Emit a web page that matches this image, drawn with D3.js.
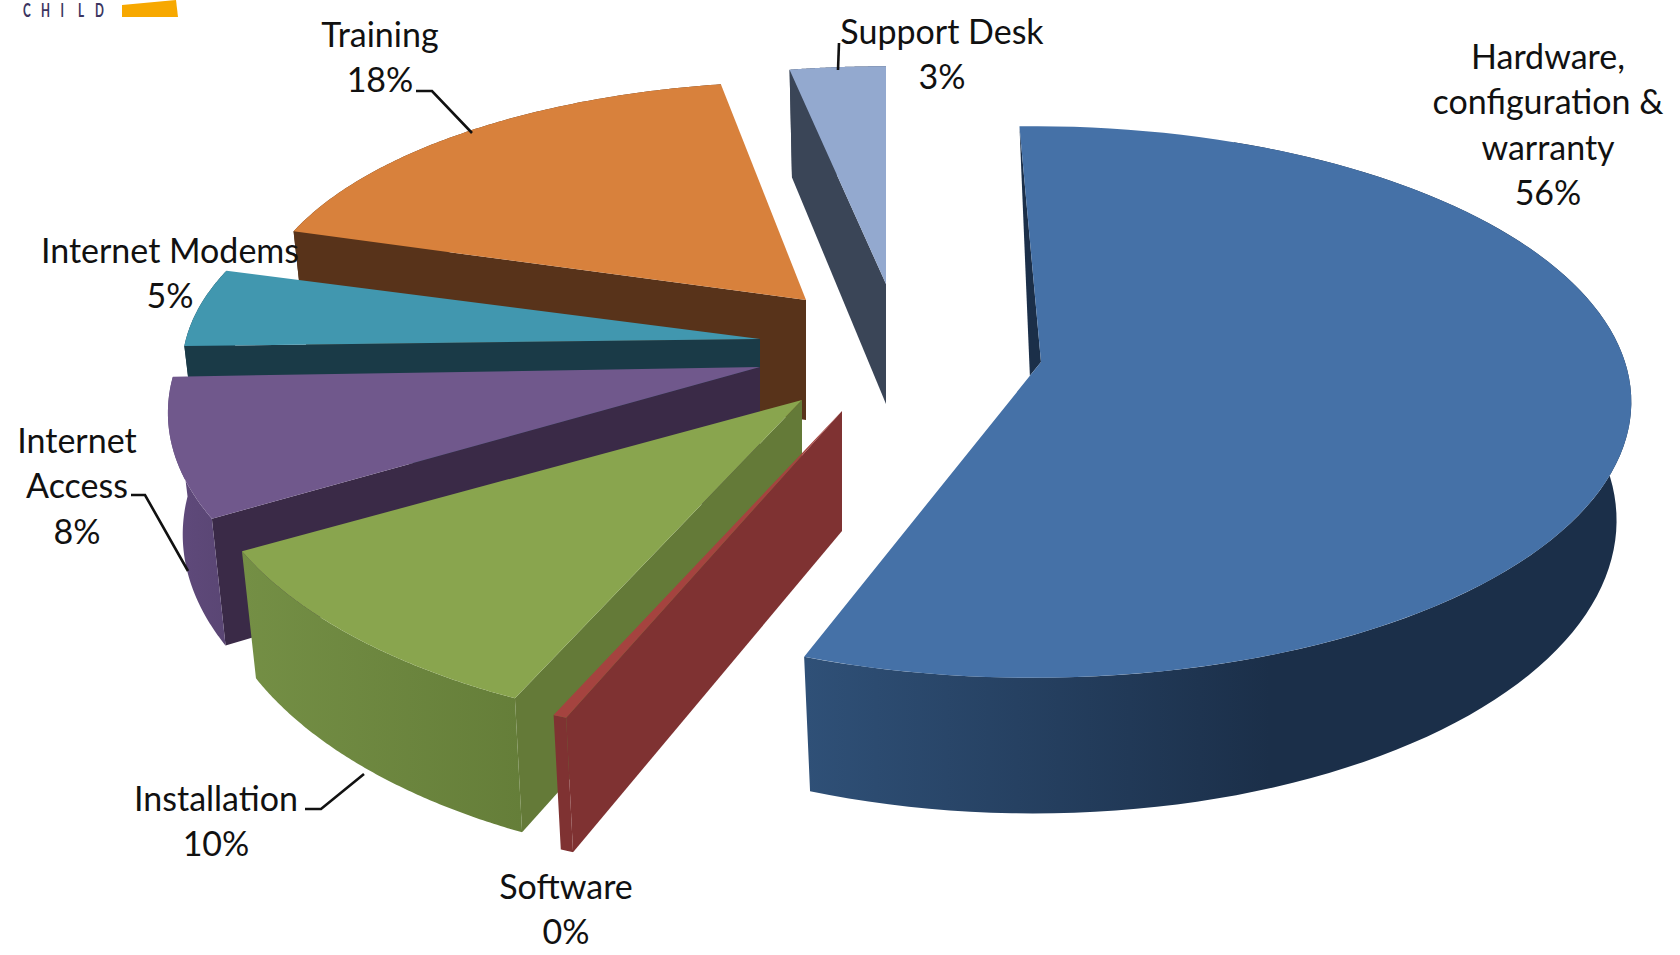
<!DOCTYPE html>
<html><head><meta charset="utf-8">
<style>html,body{margin:0;padding:0;background:#fff;overflow:hidden}svg{display:block}</style>
<script src="https://cdnjs.cloudflare.com/ajax/libs/d3/7.8.5/d3.min.js"></script>
</head><body><svg id="c" width="1680" height="955"></svg>
<script>
// ---- data, clockwise from the top
const categories = ["Hardware, configuration & warranty","Software","Installation","Internet Access","Internet Modems","Training","Support Desk"];
const values = [56,0.3,10,8,5,18,3];
const percentText = ["56%","0%","10%","8%","5%","18%","3%"];

// ---- styles
const topColors  = ["#4571a7","#a5433f","#89a54e","#70588c","#4197af","#d8813c","#93a9cf"];
const faceColors = ["#1b2f49","#7f3232","#647a38","#3a2a47","#1a3a47","#58331a","#3a4557"];
const arcFrom    = ["#2f5077","#7f3232","#748f45","#604a7c","#1a3a47","#58331a","#3a4557"];
const arcTo      = ["#1b2f49","#7f3232","#657e39","#5a4674","#1a3a47","#58331a","#3a4557"];

// ---- layout of each exploded slice (apex px, radii px, angle correction deg)
const apexX = [1041,842,802,760,760,806,886];
const apexY = [362,411,400,367,339,300,284];
const radX  = [592,660,604,600,574,548,575];
const radY  = [270,295,295,279,251,235,243];
const rotDeg= [0,2.4,4.6,5.5,3.2,2.3,1.5];
const arcShiftX=[-8,0,0,12,0,0,0];
const arcShiftY=[0,0,0,13,0,-8,0];
const persp = [0.145,0.116,0.116,0.116,0.116,0.116,0.116];
const depth = [116,120,120,120,120,120,120];
const hiddenWallShare=[0.12,0,0,0,0,0,0];
const startDeg=-1.5, shrink=0.975;
const drawOrder=[6,5,4,3,2,1,0];

// ---- label layout
const labelLines=[["Hardware,","configuration &","warranty"],["Software"],["Installation"],["Internet","Access"],["Internet Modems"],["Training"],["Support Desk"]];
const labelX=[1548,566,216,77,170,380,942];
const labelY=[55,885,797,439,249,33,30];
const lineGap=45.5;
const leaders=[null,null,[[305,809],[321,809],[364,774]],[[131,495],[145,495],[188,571]],null,[[416,91],[432,91],[472,133]],[[839,43],[838,70]]];

const svg=d3.select("#c");
const rad=d=>d*Math.PI/180;
const pie=d3.pie().sort(null).startAngle(rad(startDeg)).endAngle(rad(startDeg+360))(values);
const line=d3.line();

function project(i,theta,bottom,unit){
  const u=Math.sin(theta+rad(rotDeg[i]))*unit, v=-Math.cos(theta+rad(rotDeg[i]))*unit, w=1/(1-persp[i]*v);
  const sc=d3.scaleLinear().domain([-1,1]).range([-radX[i],radX[i]]);
  const sy=d3.scaleLinear().domain([-1,1]).range([-radY[i],radY[i]]);
  return [apexX[i]+(sc(u*w)+arcShiftX[i]*unit)*(bottom?shrink:1), apexY[i]+sy(v*w)+arcShiftY[i]*unit+(bottom?depth[i]*w:0)];
}
function arcPts(i,a0,a1,bottom){
  return d3.range(0,101).map(k=>project(i,a0+(a1-a0)*k/100,bottom,1));
}
const defs=svg.append("defs");

drawOrder.forEach(i=>{
  const p=pie[i], g=svg.append("g");
  const A=project(i,p.startAngle,false,0), Ab=project(i,p.startAngle,true,0);
  const S=project(i,p.startAngle,false,1), Sb=project(i,p.startAngle,true,1);
  const E=project(i,p.endAngle,false,1);
  // radial wall of the slice
  if(i===0){
    const Q=[A[0]+(E[0]-A[0])*0.047,A[1]+(E[1]-A[1])*0.047];
    g.append("path").attr("d",line([S,A,Q])+"Z").attr("fill",faceColors[i]);
  } else {
    g.append("path").attr("d",line([A,S,Sb,Ab])+"Z").attr("fill",faceColors[i]);
  }
  // outer wall (the far part of the big slice lies behind its own top face)
  const wallStart=p.startAngle+(p.endAngle-p.startAngle)*hiddenWallShare[i];
  const top=arcPts(i,p.startAngle,p.endAngle,false);
  const wallTop=arcPts(i,wallStart,p.endAngle,false), bot=arcPts(i,wallStart,p.endAngle,true);
  const xs=wallTop.concat(bot).map(d=>d[0]);
  const id="wall"+i;
  const grad=defs.append("linearGradient").attr("id",id).attr("gradientUnits","userSpaceOnUse")
    .attr("x1",i===0?806:d3.max(xs)).attr("x2",i===0?1270:d3.min(xs)).attr("y1",0).attr("y2",0);
  grad.append("stop").attr("offset",0).attr("stop-color",i===0?arcFrom[i]:arcTo[i]);
  grad.append("stop").attr("offset",1).attr("stop-color",i===0?arcTo[i]:arcFrom[i]);
  g.append("path").attr("d",line(wallTop.concat(bot.slice().reverse()))+"Z").attr("fill",`url(#${id})`);
  // top face
  g.append("path").attr("d",line([A].concat(top))+"Z").attr("fill",topColors[i]);
});

// leader lines
svg.append("g").selectAll("path").data(leaders.filter(Boolean)).join("path")
  .attr("d",d=>line(d)).attr("fill","none").attr("stroke","#111").attr("stroke-width",2.6);

// labels
const labels=svg.append("g").attr("font-family","Lato, 'Open Sans', sans-serif").attr("font-size",34).attr("fill","#111").attr("text-anchor","middle");
categories.forEach((c,i)=>{
  const lines=labelLines[i].concat([percentText[i]]);
  lines.forEach((t,k)=>{
    labels.append("text").attr("x",labelX[i]).attr("y",labelY[i]+k*lineGap).attr("dominant-baseline","central").text(t);
  });
});

// logo fragment, cropped at the top of the picture
const logoLetters=["C","H","I","L","D"], logoX=[23,41,60.5,78,95];
const logo=svg.append("g");
logo.append("g").attr("transform","scale(0.65,1)").selectAll("text").data(logoLetters).join("text")
  .attr("x",(d,i)=>logoX[i]/0.65).attr("y",17).attr("font-family","Lato, sans-serif").attr("font-size",18).attr("font-weight",700)
  .attr("fill","#3b3560").text(d=>d);
logo.append("path").attr("d","M122,5L176,0L178,17L122,17Z").attr("fill","#f7a800");
</script></body></html>
